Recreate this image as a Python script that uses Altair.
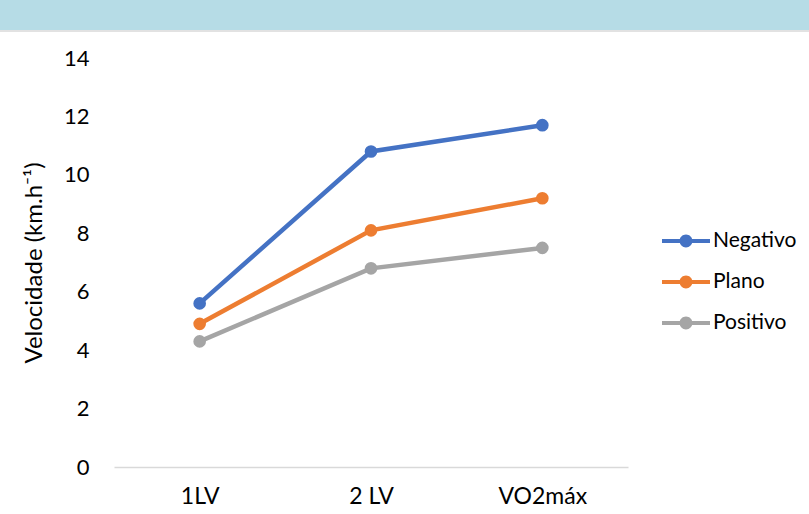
import altair as alt
import pandas as pd

categories = ["1LV", "2 LV", "VO2máx"]
series = ["Negativo", "Plano", "Positivo"]
negativo = [5.6, 10.8, 11.7]
plano = [4.9, 8.1, 9.2]
positivo = [4.3, 6.8, 7.5]
colors = ["#4472C4", "#ED7D31", "#A5A5A5"]
y_ticks = [0, 2, 4, 6, 8, 10, 12, 14]

rows = []
for name, vals in zip(series, [negativo, plano, positivo]):
    for c, v in zip(categories, vals):
        rows.append({"Fase": c, "Serie": name, "Velocidade": v})
df = pd.DataFrame(rows)

FONT = "Lato"

x_enc = alt.X("Fase:N", sort=categories, scale=alt.Scale(domain=categories, paddingInner=0, paddingOuter=0.5),
              axis=alt.Axis(title=None, labelAngle=0, labelFontSize=23, labelFont=FONT, labelColor="#000000",
                            labelPadding=18, ticks=False, domainColor="#D9D9D9", domainWidth=1.5, grid=False))
y_enc = alt.Y("Velocidade:Q", scale=alt.Scale(domain=[0, 14], nice=False),
              axis=alt.Axis(title="Velocidade (km.h⁻¹)", values=y_ticks, labelFontSize=22, labelFont=FONT,
                            labelColor="#000000", labelPadding=25, ticks=False, domain=False, grid=False,
                            titleFont=FONT, titleFontSize=24, titleFontWeight="normal", titleColor="#000000",
                            titlePadding=17))
color_scale = alt.Scale(domain=series, range=colors)

legend_path = ("M-2,-0.17L2,-0.17L2,0.17L-2,0.17Z "
               "M0.54,0A0.54,0.54 0 1,1 -0.54,0A0.54,0.54 0 1,1 0.54,0Z")
legend = alt.Legend(title=None, orient="none", legendX=560, legendY=171,
                    symbolType=legend_path, symbolSize=576, symbolStrokeWidth=0,
                    symbolOpacity=1, labelFont=FONT, labelFontSize=21, labelColor="#000000",
                    labelOffset=15, rowPadding=19, padding=0)

base = alt.Chart(df)
lines = base.mark_line(strokeWidth=4.5).encode(
    x=x_enc, y=y_enc,
    color=alt.Color("Serie:N", scale=color_scale, sort=series, legend=legend),
    detail="Serie:N",
)
points = base.mark_point(filled=True, size=160, opacity=1).encode(
    x=x_enc, y=y_enc,
    color=alt.Color("Serie:N", scale=color_scale, sort=series, legend=legend),
)

band = alt.Chart(pd.DataFrame({"a": [0]})).mark_rect(color="#B6DCE6").encode(
    x=alt.value(-114), x2=alt.value(695), y=alt.value(-58), y2=alt.value(-28)
)
band_line = alt.Chart(pd.DataFrame({"a": [0]})).mark_rule(color="#D9D9D9", strokeWidth=1.5).encode(
    x=alt.value(-114), x2=alt.value(695), y=alt.value(-27)
)

chart = alt.layer(band, band_line, lines, points).properties(
    width=514, height=409,
    autosize=alt.AutoSizeParams(type="none"),
    padding={"left": 114, "top": 58, "right": 181, "bottom": 47},
).configure_view(stroke=None)

chart.save("out.html", embed_options={"renderer": "svg", "actions": False})
